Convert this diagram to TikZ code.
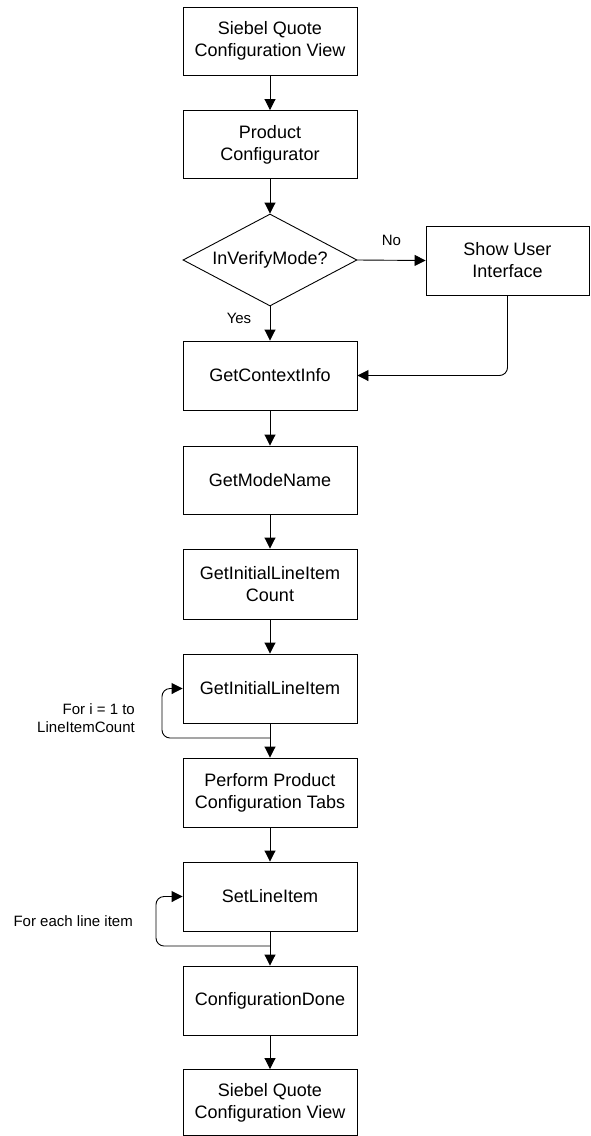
\documentclass[tikz,border=0pt]{standalone}
\usepackage{fontspec}
\setmainfont{Liberation Sans}
\usetikzlibrary{arrows.meta,shapes.geometric}
\begin{document}
\begin{tikzpicture}[x=1pt,y=-1pt,
  every node/.style={inner sep=0pt},
  boxstyle/.style={draw,line width=0.9pt,minimum width=174pt,minimum height=68pt,align=center,font=\fontsize{18}{22}\selectfont},
  decstyle/.style={draw,line width=0.9pt,shape=diamond,aspect=1.9,minimum width=174pt,minimum height=92pt,align=center,font=\fontsize{18}{22}\selectfont},
  lbl/.style={font=\fontsize{15}{18}\selectfont},
  conn/.style={line width=0.9pt,-{Triangle[length=11pt,width=11pt]}},
  loopconn/.style={conn,rounded corners=8pt}
]
\useasboundingbox (0,0) rectangle (590,1136);

\node[boxstyle] (b1) at (270,41) {Siebel Quote\\Configuration View};
\node[boxstyle] (b2) at (270,144.5) {Product\\Configurator};
\node[decstyle] (dia) at (270,260) {InVerifyMode?};
\node[boxstyle,minimum width=163pt,minimum height=69pt] (ui) at (507.5,260.5) {Show User\\Interface};
\node[boxstyle,minimum height=69pt] (gci) at (270,375.5) {GetContextInfo};
\node[boxstyle] (gmn) at (270,480) {GetModeName};
\node[boxstyle,minimum height=70pt] (gilc) at (270,584) {GetInitialLineItem\\Count};
\node[boxstyle,minimum height=69pt] (gil) at (270,688.5) {GetInitialLineItem};
\node[boxstyle,minimum height=69pt] (ppc) at (270,792.5) {Perform Product\\Configuration Tabs};
\node[boxstyle,minimum height=69pt] (sli) at (270,896.5) {SetLineItem};
\node[boxstyle,minimum height=69pt] (cd) at (270,1000.5) {ConfigurationDone};
\node[boxstyle,minimum height=66pt] (bend) at (270,1102.5) {Siebel Quote\\Configuration View};

\draw[conn] (b1) -- (b2);
\draw[conn] (b2) -- (dia);
\draw[conn] (dia.east) -- node[lbl,pos=0.5,yshift=20pt] (lno) {No} (ui.west);
\draw[conn] (dia.south) -- (gci.north);
\node[lbl] (lyes) at (239,318) {Yes};
\draw[conn,rounded corners=8pt] (ui.south) |- (gci.east);
\draw[conn] (gci) -- (gmn);
\draw[conn] (gmn) -- (gilc);
\draw[conn] (gilc) -- (gil);
\draw[conn] (gil) -- (ppc);
\coordinate (j1) at (270,738);
\draw[loopconn] (j1) -- (162,738) -- (162,688.5) -- (gil.west);
\node[lbl,align=right,anchor=east] (lfor1) at (135,718) {For i = 1 to\\LineItemCount};
\draw[conn] (ppc) -- (sli);
\draw[conn] (sli) -- (cd);
\coordinate (j2) at (270,946);
\draw[loopconn] (j2) -- (156,946) -- (156,896.5) -- (sli.west);
\node[lbl,anchor=east] (lfor2) at (133,921) {For each line item};
\draw[conn] (cd) -- (bend);
\end{tikzpicture}
\end{document}
